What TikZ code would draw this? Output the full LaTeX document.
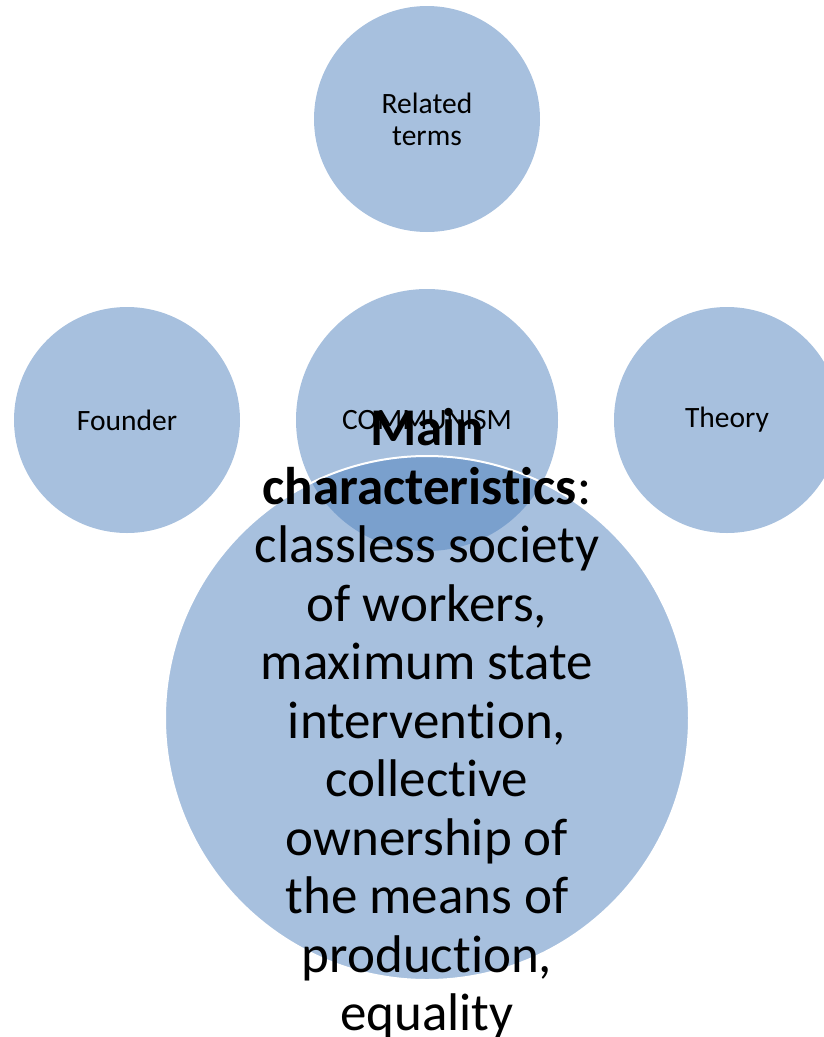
\documentclass[tikz,border=0pt]{standalone}
\usepackage{fontspec}
\setmainfont{Carlito}[Ligatures=NoCommon]
\definecolor{accent}{HTML}{4F81BD}
\begin{document}
\begin{tikzpicture}[x=1pt,y=-1pt,
  bubble/.style={circle,fill=accent,fill opacity=0.5,text opacity=1,inner sep=0pt,align=center,font=\fontsize{29.5}{32}\selectfont},
  mainbubble/.style={circle,fill=accent,fill opacity=0.5,draw=white,draw opacity=1,line width=2pt,inner sep=0pt}]
\useasboundingbox (0,0) rectangle (824,1037);
\clip (0,0) rectangle (824,1037);
\node[bubble,minimum size=226pt] (rel) at (427,119) {Related\\terms};
\node[bubble,minimum size=226pt] (fou) at (127,420) {Founder};
\node[bubble,minimum size=226pt] (the) at (727,420) {Theory};
\node[bubble,minimum size=262pt] (com) at (427,420) {COMMUNISM};
\node[mainbubble,minimum size=524pt] (big) at (427,718) {};
\node[align=center,font=\fontsize{53}{58.5}\selectfont,inner sep=0pt] (txt) at (427,724)
  {\textbf{Main}\\\textbf{characteristics}:\\classless society\\of workers,\\maximum state\\intervention,\\collective\\ownership of\\the means of\\production,\\equality};
\end{tikzpicture}
\end{document}
